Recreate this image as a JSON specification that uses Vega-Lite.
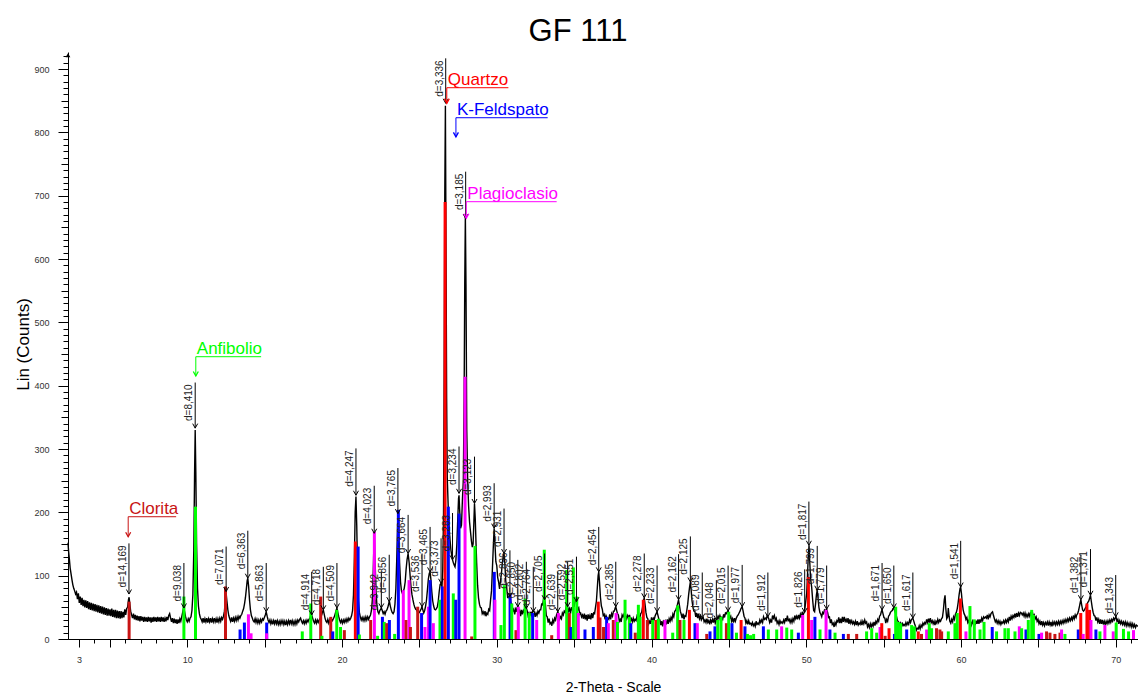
{
"$schema":"https://vega.github.io/schema/vega-lite/v6.json",
"width":1070,"height":587,
"autosize":{"type":"none"},
"padding":{"left":68,"top":52,"right":0,"bottom":56},
"background":"#ffffff",
"config":{"font":"Liberation Sans","view":{"stroke":null},"axis":{"grid":false}},
"title":{"text":"GF 111","fontSize":31,"fontWeight":"normal","font":"Liberation Sans","color":"#000","anchor":"middle","frame":"group","dx":-25,"dy":31,"offset":11,"baseline":"alphabetic"},
"datasets":{
"xrd":[
{"t":2.29,"c":152},{"t":2.33,"c":138},{"t":2.38,"c":126},{"t":2.43,"c":112},{"t":2.5,"c":101},{"t":2.55,"c":93},{"t":2.6,"c":86},{"t":2.66,"c":80},{"t":2.72,"c":76},{"t":2.78,"c":71},{"t":2.84,"c":74},{"t":2.9,"c":63},{"t":2.96,"c":72},{"t":3.02,"c":57},{"t":3.08,"c":67},{"t":3.14,"c":54},{"t":3.2,"c":65},{"t":3.26,"c":52},{"t":3.32,"c":62},{"t":3.38,"c":50},{"t":3.44,"c":61},{"t":3.5,"c":49},{"t":3.56,"c":60},{"t":3.62,"c":47},{"t":3.68,"c":58},{"t":3.74,"c":46},{"t":3.8,"c":57},{"t":3.86,"c":45},{"t":3.92,"c":56},{"t":3.98,"c":44},{"t":4.04,"c":55},{"t":4.1,"c":43},{"t":4.16,"c":54},{"t":4.22,"c":42},{"t":4.28,"c":53},{"t":4.34,"c":41},{"t":4.4,"c":52},{"t":4.46,"c":40},{"t":4.52,"c":51},{"t":4.58,"c":39},{"t":4.64,"c":50},{"t":4.7,"c":38},{"t":4.76,"c":49},{"t":4.82,"c":37},{"t":4.88,"c":48},{"t":4.94,"c":37},{"t":5.0,"c":47},{"t":5.06,"c":36},{"t":5.12,"c":48},{"t":5.18,"c":35},{"t":5.24,"c":46},{"t":5.3,"c":34},{"t":5.36,"c":46},{"t":5.42,"c":33},{"t":5.48,"c":45},{"t":5.54,"c":33},{"t":5.6,"c":44},{"t":5.66,"c":32},{"t":5.72,"c":44},{"t":5.78,"c":33},{"t":5.84,"c":43},{"t":5.9,"c":34},{"t":5.96,"c":47},{"t":6.02,"c":38},{"t":6.08,"c":48},{"t":6.14,"c":50},{"t":6.2,"c":62},{"t":6.24,"c":66},{"t":6.28,"c":56},{"t":6.34,"c":44},{"t":6.4,"c":38},{"t":6.46,"c":33},{"t":6.52,"c":40},{"t":6.58,"c":31},{"t":6.64,"c":38},{"t":6.7,"c":30},{"t":6.76,"c":37},{"t":6.82,"c":29},{"t":6.88,"c":36},{"t":6.94,"c":28},{"t":7.0,"c":36},{"t":7.06,"c":29},{"t":7.12,"c":35},{"t":7.18,"c":27},{"t":7.24,"c":35},{"t":7.3,"c":28},{"t":7.36,"c":34},{"t":7.42,"c":27},{"t":7.48,"c":35},{"t":7.54,"c":28},{"t":7.6,"c":34},{"t":7.66,"c":26},{"t":7.72,"c":34},{"t":7.78,"c":27},{"t":7.84,"c":35},{"t":7.9,"c":28},{"t":7.96,"c":34},{"t":8.02,"c":27},{"t":8.08,"c":35},{"t":8.14,"c":28},{"t":8.2,"c":34},{"t":8.26,"c":27},{"t":8.32,"c":35},{"t":8.38,"c":28},{"t":8.44,"c":34},{"t":8.5,"c":27},{"t":8.56,"c":33},{"t":8.62,"c":28},{"t":8.68,"c":35},{"t":8.74,"c":30},{"t":8.8,"c":37},{"t":8.86,"c":40},{"t":8.92,"c":33},{"t":8.98,"c":27},{"t":9.04,"c":33},{"t":9.1,"c":25},{"t":9.16,"c":32},{"t":9.22,"c":25},{"t":9.28,"c":31},{"t":9.34,"c":24},{"t":9.4,"c":31},{"t":9.46,"c":25},{"t":9.52,"c":32},{"t":9.58,"c":28},{"t":9.64,"c":35},{"t":9.7,"c":42},{"t":9.76,"c":49},{"t":9.82,"c":44},{"t":9.88,"c":36},{"t":9.94,"c":30},{"t":10.0,"c":27},{"t":10.06,"c":32},{"t":10.12,"c":28},{"t":10.18,"c":33},{"t":10.24,"c":35},{"t":10.3,"c":45},{"t":10.36,"c":70},{"t":10.42,"c":140},{"t":10.47,"c":260},{"t":10.51,"c":330},{"t":10.55,"c":265},{"t":10.6,"c":150},{"t":10.66,"c":80},{"t":10.72,"c":52},{"t":10.78,"c":40},{"t":10.84,"c":34},{"t":10.9,"c":31},{"t":10.96,"c":27},{"t":11.02,"c":33},{"t":11.08,"c":26},{"t":11.14,"c":32},{"t":11.2,"c":27},{"t":11.26,"c":33},{"t":11.32,"c":26},{"t":11.38,"c":32},{"t":11.44,"c":27},{"t":11.5,"c":33},{"t":11.56,"c":26},{"t":11.62,"c":32},{"t":11.68,"c":27},{"t":11.74,"c":33},{"t":11.8,"c":27},{"t":11.86,"c":32},{"t":11.92,"c":26},{"t":11.98,"c":32},{"t":12.04,"c":27},{"t":12.1,"c":33},{"t":12.16,"c":28},{"t":12.22,"c":34},{"t":12.28,"c":31},{"t":12.34,"c":36},{"t":12.4,"c":44},{"t":12.46,"c":62},{"t":12.51,"c":72},{"t":12.56,"c":60},{"t":12.62,"c":46},{"t":12.68,"c":37},{"t":12.74,"c":32},{"t":12.8,"c":28},{"t":12.86,"c":34},{"t":12.92,"c":27},{"t":12.98,"c":33},{"t":13.04,"c":28},{"t":13.1,"c":34},{"t":13.16,"c":29},{"t":13.22,"c":35},{"t":13.28,"c":30},{"t":13.34,"c":36},{"t":13.4,"c":33},{"t":13.46,"c":37},{"t":13.52,"c":39},{"t":13.58,"c":44},{"t":13.64,"c":48},{"t":13.7,"c":56},{"t":13.76,"c":66},{"t":13.82,"c":80},{"t":13.87,"c":92},{"t":13.91,"c":96},{"t":13.96,"c":84},{"t":14.02,"c":62},{"t":14.08,"c":46},{"t":14.14,"c":37},{"t":14.2,"c":33},{"t":14.26,"c":29},{"t":14.32,"c":27},{"t":14.38,"c":32},{"t":14.44,"c":26},{"t":14.5,"c":31},{"t":14.56,"c":25},{"t":14.62,"c":30},{"t":14.68,"c":25},{"t":14.74,"c":31},{"t":14.8,"c":27},{"t":14.86,"c":32},{"t":14.92,"c":30},{"t":14.98,"c":34},{"t":15.04,"c":38},{"t":15.1,"c":43},{"t":15.16,"c":36},{"t":15.22,"c":30},{"t":15.28,"c":26},{"t":15.34,"c":30},{"t":15.4,"c":24},{"t":15.46,"c":29},{"t":15.52,"c":23},{"t":15.58,"c":29},{"t":15.64,"c":24},{"t":15.7,"c":30},{"t":15.76,"c":24},{"t":15.82,"c":29},{"t":15.88,"c":23},{"t":15.94,"c":28},{"t":16.0,"c":23},{"t":16.06,"c":29},{"t":16.12,"c":24},{"t":16.18,"c":29},{"t":16.24,"c":23},{"t":16.3,"c":28},{"t":16.36,"c":22},{"t":16.42,"c":28},{"t":16.48,"c":23},{"t":16.54,"c":29},{"t":16.6,"c":24},{"t":16.66,"c":30},{"t":16.72,"c":24},{"t":16.78,"c":29},{"t":16.84,"c":23},{"t":16.9,"c":28},{"t":16.96,"c":23},{"t":17.02,"c":29},{"t":17.08,"c":24},{"t":17.14,"c":30},{"t":17.2,"c":27},{"t":17.26,"c":31},{"t":17.32,"c":33},{"t":17.38,"c":28},{"t":17.44,"c":25},{"t":17.5,"c":29},{"t":17.56,"c":24},{"t":17.62,"c":29},{"t":17.68,"c":25},{"t":17.74,"c":30},{"t":17.8,"c":27},{"t":17.86,"c":31},{"t":17.92,"c":33},{"t":17.98,"c":37},{"t":18.04,"c":38},{"t":18.1,"c":33},{"t":18.16,"c":28},{"t":18.22,"c":25},{"t":18.28,"c":30},{"t":18.34,"c":25},{"t":18.4,"c":30},{"t":18.46,"c":26},{"t":18.52,"c":30},{"t":18.58,"c":32},{"t":18.64,"c":35},{"t":18.7,"c":39},{"t":18.75,"c":44},{"t":18.79,"c":46},{"t":18.84,"c":40},{"t":18.9,"c":33},{"t":18.96,"c":28},{"t":19.02,"c":26},{"t":19.08,"c":31},{"t":19.14,"c":25},{"t":19.2,"c":30},{"t":19.26,"c":26},{"t":19.32,"c":31},{"t":19.38,"c":29},{"t":19.44,"c":32},{"t":19.5,"c":35},{"t":19.56,"c":40},{"t":19.62,"c":45},{"t":19.67,"c":49},{"t":19.72,"c":43},{"t":19.78,"c":36},{"t":19.84,"c":30},{"t":19.9,"c":26},{"t":19.96,"c":30},{"t":20.02,"c":25},{"t":20.08,"c":30},{"t":20.14,"c":26},{"t":20.2,"c":31},{"t":20.26,"c":27},{"t":20.32,"c":32},{"t":20.38,"c":28},{"t":20.44,"c":33},{"t":20.5,"c":30},{"t":20.56,"c":33},{"t":20.62,"c":37},{"t":20.68,"c":45},{"t":20.74,"c":70},{"t":20.8,"c":130},{"t":20.85,"c":200},{"t":20.9,"c":225},{"t":20.95,"c":180},{"t":21.0,"c":110},{"t":21.06,"c":60},{"t":21.12,"c":42},{"t":21.18,"c":35},{"t":21.24,"c":30},{"t":21.3,"c":34},{"t":21.36,"c":29},{"t":21.42,"c":34},{"t":21.48,"c":29},{"t":21.54,"c":35},{"t":21.6,"c":30},{"t":21.66,"c":35},{"t":21.72,"c":31},{"t":21.78,"c":35},{"t":21.84,"c":38},{"t":21.9,"c":45},{"t":21.96,"c":62},{"t":22.02,"c":110},{"t":22.08,"c":168},{"t":22.14,"c":120},{"t":22.2,"c":72},{"t":22.26,"c":52},{"t":22.32,"c":43},{"t":22.38,"c":40},{"t":22.44,"c":45},{"t":22.5,"c":47},{"t":22.54,"c":49},{"t":22.6,"c":45},{"t":22.66,"c":40},{"t":22.72,"c":43},{"t":22.78,"c":39},{"t":22.84,"c":44},{"t":22.9,"c":46},{"t":22.96,"c":50},{"t":23.02,"c":56},{"t":23.06,"c":60},{"t":23.12,"c":52},{"t":23.18,"c":46},{"t":23.24,"c":42},{"t":23.3,"c":40},{"t":23.36,"c":43},{"t":23.42,"c":55},{"t":23.48,"c":80},{"t":23.54,"c":130},{"t":23.59,"c":180},{"t":23.62,"c":198},{"t":23.66,"c":170},{"t":23.72,"c":120},{"t":23.78,"c":90},{"t":23.84,"c":76},{"t":23.9,"c":72},{"t":23.96,"c":75},{"t":24.02,"c":80},{"t":24.08,"c":90},{"t":24.14,"c":110},{"t":24.2,"c":125},{"t":24.27,"c":135},{"t":24.34,"c":120},{"t":24.4,"c":100},{"t":24.46,"c":82},{"t":24.52,"c":70},{"t":24.58,"c":62},{"t":24.64,"c":55},{"t":24.7,"c":50},{"t":24.76,"c":47},{"t":24.82,"c":46},{"t":24.88,"c":43},{"t":24.94,"c":41},{"t":25.0,"c":42},{"t":25.06,"c":45},{"t":25.12,"c":48},{"t":25.17,"c":51},{"t":25.22,"c":46},{"t":25.28,"c":41},{"t":25.34,"c":45},{"t":25.4,"c":52},{"t":25.46,"c":62},{"t":25.52,"c":78},{"t":25.58,"c":95},{"t":25.64,"c":104},{"t":25.69,"c":106},{"t":25.74,"c":95},{"t":25.8,"c":75},{"t":25.86,"c":60},{"t":25.92,"c":52},{"t":25.98,"c":47},{"t":26.04,"c":46},{"t":26.1,"c":48},{"t":26.16,"c":51},{"t":26.22,"c":60},{"t":26.28,"c":75},{"t":26.34,"c":86},{"t":26.4,"c":88},{"t":26.46,"c":82},{"t":26.51,"c":110},{"t":26.56,"c":200},{"t":26.6,"c":420},{"t":26.64,"c":700},{"t":26.68,"c":842},{"t":26.72,"c":620},{"t":26.76,"c":380},{"t":26.8,"c":255},{"t":26.86,"c":210},{"t":26.92,"c":175},{"t":26.98,"c":156},{"t":27.04,"c":140},{"t":27.1,"c":130},{"t":27.14,"c":125},{"t":27.2,"c":120},{"t":27.26,"c":116},{"t":27.3,"c":114},{"t":27.36,"c":125},{"t":27.42,"c":150},{"t":27.48,"c":190},{"t":27.53,"c":222},{"t":27.56,"c":227},{"t":27.6,"c":205},{"t":27.66,"c":175},{"t":27.72,"c":180},{"t":27.78,"c":220},{"t":27.84,"c":251},{"t":27.89,"c":380},{"t":27.93,"c":560},{"t":27.97,"c":668},{"t":28.01,"c":560},{"t":28.06,"c":330},{"t":28.12,"c":250},{"t":28.18,"c":210},{"t":28.24,"c":185},{"t":28.3,"c":170},{"t":28.36,"c":155},{"t":28.42,"c":145},{"t":28.47,"c":150},{"t":28.52,"c":185},{"t":28.56,"c":214},{"t":28.61,"c":190},{"t":28.66,"c":150},{"t":28.7,"c":120},{"t":28.76,"c":85},{"t":28.82,"c":65},{"t":28.88,"c":55},{"t":28.94,"c":50},
{"t":29.0,"c":49},{"t":29.06,"c":40},{"t":29.12,"c":43},{"t":29.18,"c":39},{"t":29.24,"c":44},{"t":29.3,"c":36},{"t":29.36,"c":41},{"t":29.42,"c":39},{"t":29.48,"c":47},{"t":29.54,"c":45},{"t":29.6,"c":62},{"t":29.66,"c":76},{"t":29.72,"c":112},{"t":29.78,"c":148},{"t":29.83,"c":175},{"t":29.88,"c":152},{"t":29.94,"c":122},{"t":30.0,"c":116},{"t":30.06,"c":97},{"t":30.12,"c":90},{"t":30.18,"c":79},{"t":30.24,"c":92},{"t":30.3,"c":103},{"t":30.36,"c":121},{"t":30.42,"c":130},{"t":30.47,"c":135},{"t":30.52,"c":120},{"t":30.58,"c":92},{"t":30.64,"c":82},{"t":30.7,"c":66},{"t":30.76,"c":67},{"t":30.82,"c":64},{"t":30.86,"c":69},{"t":30.92,"c":57},{"t":30.98,"c":55},{"t":31.04,"c":44},{"t":31.1,"c":47},{"t":31.16,"c":39},{"t":31.22,"c":47},{"t":31.28,"c":43},{"t":31.32,"c":50},{"t":31.36,"c":51},{"t":31.42,"c":42},{"t":31.48,"c":45},{"t":31.54,"c":36},{"t":31.6,"c":46},{"t":31.66,"c":39},{"t":31.72,"c":45},{"t":31.78,"c":42},{"t":31.84,"c":48},{"t":31.91,"c":49},{"t":31.96,"c":45},{"t":32.02,"c":37},{"t":32.08,"c":41},{"t":32.14,"c":36},{"t":32.2,"c":43},{"t":32.26,"c":38},{"t":32.32,"c":44},{"t":32.36,"c":44},{"t":32.42,"c":43},{"t":32.48,"c":35},{"t":32.54,"c":41},{"t":32.6,"c":37},{"t":32.66,"c":44},{"t":32.72,"c":41},{"t":32.78,"c":46},{"t":32.84,"c":46},{"t":32.9,"c":55},{"t":32.96,"c":54},{"t":33.02,"c":63},{"t":33.09,"c":62},{"t":33.14,"c":55},{"t":33.2,"c":37},{"t":33.26,"c":35},{"t":33.32,"c":26},{"t":33.38,"c":32},{"t":33.44,"c":24},{"t":33.5,"c":26},{"t":33.56,"c":21},{"t":33.62,"c":30},{"t":33.68,"c":26},{"t":33.74,"c":33},{"t":33.8,"c":30},{"t":33.86,"c":38},{"t":33.94,"c":43},{"t":34.0,"c":39},{"t":34.06,"c":31},{"t":34.12,"c":35},{"t":34.18,"c":32},{"t":34.24,"c":41},{"t":34.3,"c":38},{"t":34.36,"c":44},{"t":34.42,"c":42},{"t":34.48,"c":50},{"t":34.54,"c":47},{"t":34.58,"c":51},{"t":34.64,"c":44},{"t":34.7,"c":48},{"t":34.76,"c":40},{"t":34.82,"c":50},{"t":34.88,"c":46},{"t":34.94,"c":53},{"t":35.0,"c":52},{"t":35.06,"c":60},{"t":35.12,"c":59},{"t":35.18,"c":58},{"t":35.24,"c":46},{"t":35.3,"c":49},{"t":35.36,"c":39},{"t":35.42,"c":41},{"t":35.48,"c":35},{"t":35.54,"c":38},{"t":35.6,"c":32},{"t":35.66,"c":40},{"t":35.72,"c":31},{"t":35.78,"c":38},{"t":35.84,"c":29},{"t":35.9,"c":39},{"t":35.96,"c":32},{"t":36.02,"c":37},{"t":36.08,"c":31},{"t":36.14,"c":41},{"t":36.2,"c":33},{"t":36.26,"c":41},{"t":36.32,"c":40},{"t":36.38,"c":50},{"t":36.44,"c":60},{"t":36.5,"c":82},{"t":36.55,"c":100},{"t":36.59,"c":106},{"t":36.64,"c":90},{"t":36.7,"c":66},{"t":36.76,"c":52},{"t":36.82,"c":47},{"t":36.88,"c":37},{"t":36.94,"c":39},{"t":37.0,"c":31},{"t":37.06,"c":37},{"t":37.12,"c":33},{"t":37.18,"c":33},{"t":37.24,"c":31},{"t":37.3,"c":39},{"t":37.36,"c":31},{"t":37.42,"c":40},{"t":37.48,"c":36},{"t":37.54,"c":44},{"t":37.6,"c":44},{"t":37.65,"c":49},{"t":37.69,"c":51},{"t":37.74,"c":46},{"t":37.8,"c":40},{"t":37.86,"c":38},{"t":37.92,"c":28},{"t":37.98,"c":31},{"t":38.04,"c":27},{"t":38.1,"c":38},{"t":38.16,"c":35},{"t":38.22,"c":39},{"t":38.28,"c":33},{"t":38.34,"c":37},{"t":38.4,"c":32},{"t":38.46,"c":37},{"t":38.52,"c":33},{"t":38.58,"c":38},{"t":38.64,"c":29},{"t":38.7,"c":32},{"t":38.76,"c":27},{"t":38.82,"c":33},{"t":38.88,"c":28},{"t":38.94,"c":31},{"t":39.0,"c":29},{"t":39.06,"c":36},{"t":39.12,"c":32},{"t":39.18,"c":36},{"t":39.24,"c":33},{"t":39.3,"c":40},{"t":39.36,"c":42},{"t":39.42,"c":50},{"t":39.47,"c":60},{"t":39.53,"c":65},{"t":39.58,"c":55},{"t":39.64,"c":42},{"t":39.7,"c":34},{"t":39.76,"c":32},{"t":39.82,"c":24},{"t":39.88,"c":28},{"t":39.94,"c":24},{"t":40.0,"c":34},{"t":40.06,"c":27},{"t":40.12,"c":33},{"t":40.18,"c":31},{"t":40.24,"c":37},{"t":40.3,"c":40},{"t":40.36,"c":43},{"t":40.42,"c":37},{"t":40.48,"c":31},{"t":40.54,"c":30},{"t":40.6,"c":22},{"t":40.66,"c":28},{"t":40.72,"c":20},{"t":40.78,"c":30},{"t":40.84,"c":23},{"t":40.9,"c":28},{"t":40.96,"c":23},{"t":41.02,"c":31},{"t":41.08,"c":24},{"t":41.14,"c":32},{"t":41.2,"c":28},{"t":41.26,"c":34},{"t":41.32,"c":30},{"t":41.38,"c":39},{"t":41.44,"c":35},{"t":41.5,"c":44},{"t":41.56,"c":45},{"t":41.62,"c":50},{"t":41.68,"c":55},{"t":41.75,"c":62},{"t":41.8,"c":54},{"t":41.86,"c":44},{"t":41.92,"c":39},{"t":41.98,"c":33},{"t":42.04,"c":40},{"t":42.1,"c":31},{"t":42.16,"c":37},{"t":42.22,"c":36},{"t":42.28,"c":45},{"t":42.34,"c":55},{"t":42.4,"c":70},{"t":42.46,"c":82},{"t":42.51,"c":90},{"t":42.56,"c":78},{"t":42.62,"c":60},{"t":42.68,"c":50},{"t":42.74,"c":44},{"t":42.8,"c":44},{"t":42.86,"c":35},{"t":42.92,"c":41},{"t":42.98,"c":33},{"t":43.04,"c":40},{"t":43.1,"c":32},{"t":43.16,"c":36},{"t":43.22,"c":30},{"t":43.28,"c":33},{"t":43.34,"c":34},{"t":43.4,"c":27},{"t":43.46,"c":30},{"t":43.52,"c":26},{"t":43.58,"c":32},{"t":43.64,"c":26},{"t":43.7,"c":29},{"t":43.76,"c":23},{"t":43.82,"c":30},{"t":43.88,"c":26},{"t":43.94,"c":31},{"t":44.0,"c":26},{"t":44.06,"c":33},{"t":44.12,"c":25},{"t":44.19,"c":30},{"t":44.24,"c":31},{"t":44.3,"c":36},{"t":44.36,"c":32},{"t":44.42,"c":37},{"t":44.48,"c":32},{"t":44.54,"c":34},{"t":44.6,"c":31},{"t":44.66,"c":39},{"t":44.72,"c":34},{"t":44.78,"c":41},{"t":44.84,"c":40},{"t":44.9,"c":43},{"t":44.95,"c":44},{"t":45.0,"c":40},{"t":45.06,"c":33},{"t":45.12,"c":36},{"t":45.18,"c":28},{"t":45.24,"c":32},{"t":45.3,"c":26},{"t":45.36,"c":33},{"t":45.42,"c":28},{"t":45.48,"c":33},{"t":45.54,"c":36},{"t":45.6,"c":38},{"t":45.66,"c":41},{"t":45.72,"c":44},{"t":45.78,"c":48},{"t":45.86,"c":51},{"t":45.92,"c":44},{"t":45.98,"c":36},{"t":46.04,"c":33},{"t":46.1,"c":25},{"t":46.16,"c":29},{"t":46.22,"c":23},{"t":46.28,"c":29},{"t":46.34,"c":24},{"t":46.4,"c":25},{"t":46.46,"c":22},{"t":46.52,"c":26},{"t":46.58,"c":21},{"t":46.64,"c":24},{"t":46.7,"c":20},{"t":46.76,"c":28},{"t":46.82,"c":23},{"t":46.88,"c":25},{"t":46.94,"c":23},{"t":47.0,"c":30},{"t":47.06,"c":26},{"t":47.12,"c":30},{"t":47.18,"c":26},{"t":47.24,"c":35},{"t":47.3,"c":31},{"t":47.36,"c":33},{"t":47.42,"c":31},{"t":47.47,"c":37},{"t":47.52,"c":35},{"t":47.58,"c":32},{"t":47.64,"c":26},{"t":47.7,"c":30},{"t":47.76,"c":26},{"t":47.82,"c":37},{"t":47.88,"c":33},{"t":47.94,"c":37},{"t":48.0,"c":30},{"t":48.06,"c":33},{"t":48.12,"c":25},{"t":48.18,"c":28},{"t":48.24,"c":23},{"t":48.3,"c":29},{"t":48.36,"c":25},{"t":48.42,"c":27},{"t":48.48,"c":25},{"t":48.54,"c":30},{"t":48.6,"c":26},{"t":48.66,"c":33},{"t":48.72,"c":28},{"t":48.78,"c":37},{"t":48.84,"c":29},{"t":48.9,"c":31},{"t":48.96,"c":26},{"t":49.02,"c":31},{"t":49.08,"c":26},{"t":49.14,"c":32},{"t":49.2,"c":28},{"t":49.26,"c":37},{"t":49.32,"c":32},{"t":49.38,"c":36},{"t":49.44,"c":31},{"t":49.5,"c":38},{"t":49.56,"c":33},{"t":49.62,"c":39},{"t":49.68,"c":34},{"t":49.74,"c":43},{"t":49.8,"c":38},{"t":49.87,"c":42},{"t":49.93,"c":52},{"t":49.98,"c":62},{"t":50.03,"c":72},{"t":50.08,"c":100},{"t":50.13,"c":130},{"t":50.18,"c":148},{"t":50.23,"c":120},{"t":50.28,"c":95},{"t":50.35,"c":82},{"t":50.42,"c":60},{"t":50.48,"c":45},{"t":50.54,"c":43},{"t":50.6,"c":55},{"t":50.66,"c":70},{"t":50.71,"c":77},{"t":50.76,"c":65},{"t":50.82,"c":50},{"t":50.88,"c":42},{"t":50.94,"c":39},{"t":51.0,"c":35},{"t":51.06,"c":42},{"t":51.12,"c":40},{"t":51.18,"c":46},{"t":51.24,"c":45},{"t":51.32,"c":47},{"t":51.38,"c":42},{"t":51.44,"c":34},{"t":51.5,"c":35},{"t":51.56,"c":25},{"t":51.62,"c":31},{"t":51.68,"c":23},{"t":51.74,"c":25},{"t":51.8,"c":19},{"t":51.86,"c":26},{"t":51.92,"c":22},{"t":51.98,"c":29},{"t":52.04,"c":27},{"t":52.1,"c":34},{"t":52.16,"c":25},{"t":52.22,"c":32},{"t":52.28,"c":25},{"t":52.34,"c":35},{"t":52.4,"c":27},{"t":52.46,"c":35},{"t":52.52,"c":28},{"t":52.58,"c":31},{"t":52.64,"c":26},{"t":52.7,"c":33},{"t":52.76,"c":24},{"t":52.82,"c":31},{"t":52.88,"c":25},{"t":52.94,"c":29},{"t":53.0,"c":24},{"t":53.06,"c":27},{"t":53.12,"c":23},{"t":53.18,"c":28},{"t":53.24,"c":22},{"t":53.3,"c":28},{"t":53.36,"c":22},{"t":53.42,"c":25},{"t":53.48,"c":23},{"t":53.54,"c":28},{"t":53.6,"c":22},{"t":53.66,"c":28},{"t":53.72,"c":24},{"t":53.78,"c":30},{"t":53.84,"c":25},{"t":53.9,"c":27},{"t":53.96,"c":19},{"t":54.02,"c":23},{"t":54.08,"c":18},{"t":54.14,"c":24},{"t":54.2,"c":19},{"t":54.26,"c":24},{"t":54.32,"c":20},{"t":54.38,"c":27},{"t":54.44,"c":21},{"t":54.5,"c":28},{"t":54.56,"c":25},{"t":54.62,"c":31},{"t":54.68,"c":28},{"t":54.74,"c":36},{"t":54.8,"c":38},{"t":54.85,"c":43},{"t":54.9,"c":46},{"t":54.96,"c":40},{"t":55.02,"c":34},{"t":55.08,"c":33},{"t":55.14,"c":25},{"t":55.2,"c":31},{"t":55.26,"c":28},{"t":55.32,"c":36},{"t":55.38,"c":38},{"t":55.44,"c":42},{"t":55.5,"c":44},{"t":55.56,"c":45},{"t":55.6,"c":48},{"t":55.66,"c":49},{"t":55.72,"c":44},{"t":55.78,"c":40},{"t":55.84,"c":35},{"t":55.9,"c":29},{"t":55.96,"c":27},{"t":56.02,"c":22},{"t":56.08,"c":25},{"t":56.14,"c":19},{"t":56.2,"c":26},{"t":56.26,"c":21},{"t":56.32,"c":23},{"t":56.38,"c":21},{"t":56.44,"c":26},{"t":56.5,"c":22},{"t":56.56,"c":26},{"t":56.62,"c":23},{"t":56.68,"c":30},{"t":56.74,"c":26},{"t":56.8,"c":31},{"t":56.85,"c":32},{"t":56.89,"c":33},{"t":56.94,"c":29},{"t":57.0,"c":24},{"t":57.06,"c":20},{"t":57.12,"c":14},{"t":57.18,"c":17},{"t":57.24,"c":16},{"t":57.3,"c":21},{"t":57.36,"c":16},{"t":57.42,"c":22},{"t":57.48,"c":19},{"t":57.54,"c":25},{"t":57.6,"c":22},{"t":57.66,"c":26},{"t":57.72,"c":24},{"t":57.78,"c":31},{"t":57.84,"c":26},{"t":57.9,"c":32},{"t":57.96,"c":26},{"t":58.02,"c":33},{"t":58.08,"c":26},{"t":58.14,"c":29},{"t":58.2,"c":24},{"t":58.26,"c":28},{"t":58.32,"c":22},{"t":58.38,"c":28},{"t":58.44,"c":25},{"t":58.5,"c":31},{"t":58.56,"c":26},{"t":58.62,"c":30},{"t":58.68,"c":28},{"t":58.74,"c":32},{"t":58.8,"c":34},{"t":58.86,"c":45},{"t":58.92,"c":62},{"t":58.97,"c":69},{"t":59.02,"c":48},{"t":59.08,"c":32},{"t":59.14,"c":35},{"t":59.18,"c":49},{"t":59.23,"c":36},{"t":59.28,"c":28},{"t":59.34,"c":25},{"t":59.4,"c":31},{"t":59.46,"c":27},{"t":59.52,"c":35},{"t":59.58,"c":31},{"t":59.64,"c":39},{"t":59.7,"c":42},{"t":59.76,"c":48},{"t":59.82,"c":58},{"t":59.88,"c":70},{"t":59.94,"c":80},{"t":59.98,"c":82},{"t":60.03,"c":72},{"t":60.08,"c":58},{"t":60.14,"c":46},{"t":60.2,"c":40},{"t":60.26,"c":37},{"t":60.32,"c":31},{"t":60.38,"c":34},{"t":60.44,"c":26},{"t":60.5,"c":29},{"t":60.56,"c":23},{"t":60.62,"c":27},{"t":60.68,"c":22},{"t":60.74,"c":28},{"t":60.8,"c":24},{"t":60.86,"c":29},{"t":60.92,"c":22},{"t":60.98,"c":29},{"t":61.04,"c":24},{"t":61.1,"c":31},{"t":61.16,"c":24},{"t":61.22,"c":31},{"t":61.28,"c":26},{"t":61.34,"c":33},{"t":61.4,"c":29},{"t":61.46,"c":35},{"t":61.52,"c":33},{"t":61.58,"c":35},{"t":61.64,"c":33},{"t":61.7,"c":38},{"t":61.76,"c":31},{"t":61.82,"c":38},{"t":61.88,"c":35},{"t":61.94,"c":40},{"t":62.0,"c":42},{"t":62.04,"c":43},{"t":62.1,"c":37},{"t":62.16,"c":32},{"t":62.22,"c":27},{"t":62.28,"c":30},{"t":62.34,"c":25},{"t":62.4,"c":29},{"t":62.46,"c":24},{"t":62.52,"c":28},{"t":62.58,"c":23},{"t":62.64,"c":27},{"t":62.7,"c":25},{"t":62.76,"c":29},{"t":62.82,"c":25},{"t":62.88,"c":30},{"t":62.94,"c":26},{"t":63.0,"c":31},{"t":63.06,"c":27},{"t":63.12,"c":35},{"t":63.18,"c":29},{"t":63.24,"c":36},{"t":63.3,"c":32},{"t":63.36,"c":37},{"t":63.42,"c":34},{"t":63.48,"c":40},{"t":63.54,"c":34},{"t":63.6,"c":41},{"t":63.66,"c":35},{"t":63.72,"c":41},{"t":63.78,"c":37},{"t":63.84,"c":42},{"t":63.9,"c":41},{"t":63.96,"c":38},{"t":64.02,"c":41},{"t":64.08,"c":36},{"t":64.14,"c":41},{"t":64.2,"c":35},{"t":64.26,"c":39},{"t":64.32,"c":35},{"t":64.38,"c":40},{"t":64.44,"c":36},{"t":64.5,"c":43},{"t":64.56,"c":36},{"t":64.62,"c":42},{"t":64.68,"c":35},{"t":64.74,"c":38},{"t":64.8,"c":32},{"t":64.86,"c":35},{"t":64.92,"c":28},{"t":64.98,"c":31},{"t":65.04,"c":24},{"t":65.1,"c":28},{"t":65.16,"c":22},{"t":65.22,"c":28},{"t":65.28,"c":22},{"t":65.34,"c":26},{"t":65.4,"c":21},{"t":65.46,"c":26},{"t":65.52,"c":23},{"t":65.58,"c":27},{"t":65.64,"c":21},{"t":65.7,"c":27},{"t":65.76,"c":22},{"t":65.82,"c":27},{"t":65.88,"c":20},{"t":65.94,"c":27},{"t":66.0,"c":23},{"t":66.06,"c":27},{"t":66.12,"c":22},{"t":66.18,"c":27},{"t":66.24,"c":23},{"t":66.3,"c":28},{"t":66.36,"c":23},{"t":66.42,"c":28},{"t":66.48,"c":24},{"t":66.54,"c":29},{"t":66.6,"c":25},{"t":66.66,"c":30},{"t":66.72,"c":26},{"t":66.78,"c":31},{"t":66.84,"c":27},{"t":66.9,"c":32},{"t":66.96,"c":28},{"t":67.02,"c":33},{"t":67.08,"c":29},{"t":67.14,"c":34},{"t":67.2,"c":30},{"t":67.26,"c":37},{"t":67.32,"c":32},{"t":67.38,"c":38},{"t":67.44,"c":34},{"t":67.48,"c":38},{"t":67.54,"c":40},{"t":67.6,"c":45},{"t":67.66,"c":52},{"t":67.71,"c":58},{"t":67.75,"c":62},{"t":67.8,"c":54},{"t":67.86,"c":46},{"t":67.92,"c":44},{"t":67.98,"c":46},{"t":68.04,"c":49},{"t":68.08,"c":51},{"t":68.14,"c":55},{"t":68.2,"c":58},{"t":68.26,"c":60},{"t":68.32,"c":65},{"t":68.37,"c":69},{"t":68.42,"c":60},{"t":68.48,"c":50},{"t":68.54,"c":42},{"t":68.6,"c":37},{"t":68.66,"c":36},{"t":68.72,"c":29},{"t":68.78,"c":34},{"t":68.84,"c":27},{"t":68.9,"c":31},{"t":68.96,"c":24},{"t":69.02,"c":31},{"t":69.08,"c":24},{"t":69.14,"c":30},{"t":69.2,"c":23},{"t":69.26,"c":28},{"t":69.32,"c":23},{"t":69.38,"c":28},{"t":69.44,"c":24},{"t":69.5,"c":29},{"t":69.56,"c":25},{"t":69.62,"c":30},{"t":69.68,"c":26},{"t":69.74,"c":31},{"t":69.8,"c":28},{"t":69.86,"c":33},{"t":69.92,"c":30},{"t":69.96,"c":33},{"t":70.02,"c":35},{"t":70.08,"c":28},{"t":70.14,"c":31},{"t":70.2,"c":24},{"t":70.26,"c":29},{"t":70.32,"c":24},{"t":70.38,"c":28},{"t":70.44,"c":23},{"t":70.5,"c":27},{"t":70.56,"c":22},{"t":70.62,"c":27},{"t":70.68,"c":21},{"t":70.74,"c":26},{"t":70.8,"c":21},{"t":70.86,"c":25},{"t":70.92,"c":20},{"t":70.98,"c":25},{"t":71.04,"c":19},{"t":71.1,"c":24},{"t":71.16,"c":19},{"t":71.22,"c":23},{"t":71.28,"c":18},{"t":71.34,"c":22},{"t":71.44,"c":20}
],
"sticks":[
{"t":6.24,"c":59,"p":"C"},{"t":9.78,"c":67,"p":"A"},{"t":10.53,"c":209,"p":"A"},{"t":12.47,"c":83,"p":"C"},{"t":13.41,"c":15,"p":"K"},{"t":13.69,"c":26,"p":"K"},{"t":13.95,"c":39,"p":"P"},{"t":14.12,"c":9,"p":"P"},{"t":15.13,"c":26,"p":"K"},{"t":15.13,"c":9,"p":"P"},{"t":17.43,"c":12,"p":"A"},{"t":17.98,"c":56,"p":"A"},{"t":18.62,"c":67,"p":"C"},{"t":18.7,"c":5,"p":"A"},{"t":19.27,"c":35,"p":"C"},{"t":19.4,"c":12,"p":"K"},{"t":19.66,"c":46,"p":"A"},{"t":19.9,"c":19,"p":"A"},{"t":20.15,"c":14,"p":"C"},{"t":20.86,"c":154,"p":"Q"},{"t":21.04,"c":146,"p":"K"},{"t":21.12,"c":7,"p":"A"},{"t":21.85,"c":30,"p":"C"},{"t":22.09,"c":169,"p":"P"},{"t":22.3,"c":5,"p":"A"},{"t":22.61,"c":35,"p":"K"},{"t":22.73,"c":27,"p":"A"},{"t":22.89,"c":25,"p":"C"},{"t":23.06,"c":30,"p":"K"},{"t":23.4,"c":8,"p":"A"},{"t":23.64,"c":204,"p":"K"},{"t":23.96,"c":77,"p":"P"},{"t":24.14,"c":30,"p":"C"},{"t":24.33,"c":93,"p":"P"},{"t":24.42,"c":19,"p":"C"},{"t":24.89,"c":51,"p":"C"},{"t":25.14,"c":41,"p":"K"},{"t":25.36,"c":19,"p":"P"},{"t":25.58,"c":51,"p":"P"},{"t":25.69,"c":93,"p":"K"},{"t":25.9,"c":25,"p":"P"},{"t":26.33,"c":62,"p":"A"},{"t":26.48,"c":83,"p":"K"},{"t":26.66,"c":690,"p":"Q"},{"t":26.87,"c":209,"p":"K"},{"t":27.19,"c":72,"p":"A"},{"t":27.35,"c":62,"p":"K"},{"t":27.56,"c":198,"p":"K"},{"t":27.95,"c":414,"p":"P"},{"t":28.38,"c":4,"p":"C"},{"t":28.59,"c":147,"p":"A"},{"t":29.84,"c":106,"p":"K"},{"t":29.88,"c":62,"p":"P"},{"t":30.27,"c":22,"p":"A"},{"t":30.49,"c":85,"p":"A"},{"t":30.86,"c":72,"p":"K"},{"t":30.97,"c":56,"p":"A"},{"t":31.24,"c":14,"p":"C"},{"t":31.39,"c":51,"p":"P"},{"t":31.83,"c":64,"p":"A"},{"t":32.1,"c":41,"p":"A"},{"t":32.32,"c":41,"p":"K"},{"t":32.58,"c":30,"p":"P"},{"t":33.07,"c":141,"p":"A"},{"t":33.55,"c":6,"p":"C"},{"t":33.98,"c":41,"p":"P"},{"t":34.52,"c":109,"p":"A"},{"t":34.69,"c":41,"p":"C"},{"t":34.8,"c":19,"p":"K"},{"t":34.95,"c":113,"p":"A"},{"t":35.17,"c":67,"p":"A"},{"t":35.27,"c":41,"p":"P"},{"t":35.7,"c":15,"p":"K"},{"t":36.24,"c":19,"p":"K"},{"t":36.56,"c":59,"p":"Q"},{"t":36.67,"c":34,"p":"C"},{"t":36.9,"c":19,"p":"C"},{"t":37.1,"c":35,"p":"K"},{"t":37.21,"c":25,"p":"P"},{"t":37.53,"c":30,"p":"C"},{"t":37.71,"c":41,"p":"P"},{"t":37.8,"c":27,"p":"A"},{"t":38.29,"c":62,"p":"A"},{"t":38.57,"c":35,"p":"A"},{"t":38.66,"c":25,"p":"K"},{"t":38.95,"c":10,"p":"C"},{"t":39.15,"c":54,"p":"A"},{"t":39.26,"c":35,"p":"A"},{"t":39.47,"c":62,"p":"Q"},{"t":39.73,"c":30,"p":"C"},{"t":40.08,"c":30,"p":"A"},{"t":40.29,"c":30,"p":"Q"},{"t":40.44,"c":32,"p":"A"},{"t":40.87,"c":30,"p":"P"},{"t":41.37,"c":10,"p":"A"},{"t":41.69,"c":53,"p":"A"},{"t":41.84,"c":30,"p":"C"},{"t":42.1,"c":30,"p":"A"},{"t":42.45,"c":46,"p":"Q"},{"t":42.81,"c":25,"p":"K"},{"t":42.96,"c":25,"p":"P"},{"t":43.57,"c":8,"p":"C"},{"t":43.78,"c":12,"p":"K"},{"t":44.1,"c":20,"p":"K"},{"t":44.28,"c":30,"p":"A"},{"t":44.49,"c":35,"p":"A"},{"t":44.84,"c":25,"p":"C"},{"t":44.99,"c":43,"p":"A"},{"t":45.2,"c":25,"p":"K"},{"t":45.49,"c":10,"p":"A"},{"t":45.79,"c":30,"p":"Q"},{"t":46.04,"c":20,"p":"K"},{"t":46.2,"c":8,"p":"A"},{"t":46.4,"c":6,"p":"A"},{"t":46.6,"c":8,"p":"A"},{"t":47.23,"c":20,"p":"K"},{"t":47.55,"c":15,"p":"A"},{"t":48.09,"c":15,"p":"A"},{"t":48.41,"c":20,"p":"P"},{"t":48.74,"c":18,"p":"A"},{"t":49.06,"c":15,"p":"A"},{"t":49.49,"c":10,"p":"K"},{"t":49.77,"c":38,"p":"P"},{"t":50.14,"c":98,"p":"Q"},{"t":50.35,"c":30,"p":"P"},{"t":50.56,"c":35,"p":"K"},{"t":50.89,"c":15,"p":"A"},{"t":51.28,"c":46,"p":"P"},{"t":51.53,"c":15,"p":"K"},{"t":51.86,"c":10,"p":"A"},{"t":52.4,"c":8,"p":"K"},{"t":52.72,"c":8,"p":"C"},{"t":53.26,"c":8,"p":"C"},{"t":53.9,"c":12,"p":"A"},{"t":54.23,"c":17,"p":"A"},{"t":54.55,"c":10,"p":"A"},{"t":54.77,"c":19,"p":"P"},{"t":54.88,"c":25,"p":"Q"},{"t":55.1,"c":5,"p":"C"},{"t":55.35,"c":17,"p":"Q"},{"t":55.7,"c":8,"p":"K"},{"t":55.78,"c":51,"p":"A"},{"t":55.95,"c":27,"p":"A"},{"t":56.1,"c":25,"p":"A"},{"t":56.49,"c":15,"p":"K"},{"t":56.81,"c":22,"p":"A"},{"t":56.98,"c":20,"p":"A"},{"t":57.24,"c":12,"p":"Q"},{"t":57.45,"c":8,"p":"C"},{"t":57.78,"c":15,"p":"P"},{"t":57.95,"c":25,"p":"A"},{"t":58.1,"c":17,"p":"A"},{"t":58.42,"c":17,"p":"C"},{"t":58.64,"c":15,"p":"C"},{"t":58.75,"c":12,"p":"C"},{"t":59.18,"c":12,"p":"A"},{"t":59.61,"c":25,"p":"A"},{"t":59.76,"c":41,"p":"A"},{"t":59.96,"c":64,"p":"Q"},{"t":60.32,"c":12,"p":"P"},{"t":60.58,"c":52,"p":"A"},{"t":60.86,"c":31,"p":"A"},{"t":61.23,"c":15,"p":"A"},{"t":61.49,"c":27,"p":"A"},{"t":62.02,"c":19,"p":"K"},{"t":62.3,"c":12,"p":"A"},{"t":62.84,"c":17,"p":"A"},{"t":63.06,"c":17,"p":"A"},{"t":63.49,"c":12,"p":"A"},{"t":63.77,"c":20,"p":"P"},{"t":63.92,"c":17,"p":"A"},{"t":64.2,"c":15,"p":"K"},{"t":64.35,"c":30,"p":"A"},{"t":64.57,"c":46,"p":"A"},{"t":64.68,"c":38,"p":"A"},{"t":65.04,"c":8,"p":"K"},{"t":65.21,"c":10,"p":"P"},{"t":65.53,"c":12,"p":"C"},{"t":65.75,"c":10,"p":"C"},{"t":66.07,"c":8,"p":"C"},{"t":66.4,"c":10,"p":"C"},{"t":66.5,"c":15,"p":"P"},{"t":66.72,"c":8,"p":"A"},{"t":67.58,"c":15,"p":"K"},{"t":67.74,"c":41,"p":"Q"},{"t":67.9,"c":8,"p":"P"},{"t":68.14,"c":56,"p":"Q"},{"t":68.31,"c":46,"p":"Q"},{"t":68.4,"c":30,"p":"P"},{"t":68.72,"c":15,"p":"K"},{"t":68.98,"c":12,"p":"A"},{"t":69.3,"c":22,"p":"P"},{"t":69.84,"c":12,"p":"P"},{"t":70.03,"c":26,"p":"A"},{"t":70.5,"c":16,"p":"A"},{"t":70.83,"c":12,"p":"A"},{"t":71.15,"c":14,"p":"P"}
],
"peaks":[
{"t":6.23,"tip":71,"top":151,"l":"d=14,169"},{"t":9.78,"tip":49,"top":120,"l":"d=9,038"},{"t":10.51,"tip":333,"top":405,"l":"d=8,410"},{"t":12.51,"tip":75,"top":146,"l":"d=7,071"},{"t":13.91,"tip":96,"top":171,"l":"d=6,363"},{"t":15.1,"tip":43,"top":120,"l":"d=5,863"},{"t":18.04,"tip":38,"top":106,"l":"d=4,914"},{"t":18.79,"tip":46,"top":114,"l":"d=4,718"},{"t":19.67,"tip":49,"top":120,"l":"d=4,509"},{"t":20.9,"tip":227,"top":301,"l":"d=4,247"},{"t":22.08,"tip":167,"top":242,"l":"d=4,023"},{"t":22.54,"tip":49,"top":106,"l":"d=3,942"},{"t":23.05,"tip":59,"top":133,"l":"d=3,856"},{"t":23.61,"tip":198,"top":270,"l":"d=3,765"},{"t":24.27,"tip":135,"top":196,"l":"d=3,664"},{"t":25.17,"tip":51,"top":135,"l":"d=3,536"},{"t":25.69,"tip":106,"top":177,"l":"d=3,465"},{"t":26.4,"tip":88,"top":159,"l":"d=3,373"},{"t":26.7,"tip":846,"top":917,"l":"d=3,336"},{"t":27.14,"tip":125,"top":199,"l":"d=3,283"},{"t":27.56,"tip":230,"top":304,"l":"d=3,234"},{"t":27.99,"tip":664,"top":738,"l":"d=3,185"},{"t":28.56,"tip":214,"top":288,"l":"d=3,123"},{"t":29.83,"tip":175,"top":246,"l":"d=2,993"},{"t":30.47,"tip":135,"top":206,"l":"d=2,931"},{"t":30.85,"tip":67,"top":140,"l":"d=2,896"},{"t":31.36,"tip":51,"top":125,"l":"d=2,850"},{"t":31.91,"tip":48,"top":122,"l":"d=2,802"},{"t":32.36,"tip":43,"top":114,"l":"d=2,764"},{"t":33.09,"tip":62,"top":135,"l":"d=2,705"},{"t":33.94,"tip":43,"top":106,"l":"d=2,639"},{"t":34.58,"tip":51,"top":122,"l":"d=2,592"},{"t":35.15,"tip":59,"top":130,"l":"d=2,551"},{"t":36.59,"tip":106,"top":177,"l":"d=2,454"},{"t":37.69,"tip":51,"top":122,"l":"d=2,385"},{"t":39.53,"tip":65,"top":135,"l":"d=2,278"},{"t":40.36,"tip":43,"top":116,"l":"d=2,233"},{"t":41.75,"tip":62,"top":134,"l":"d=2,162"},{"t":42.51,"tip":90,"top":162,"l":"d=2,125"},{"t":43.28,"tip":33,"top":105,"l":"d=2,089"},{"t":44.19,"tip":30,"top":93,"l":"d=2,048"},{"t":44.95,"tip":44,"top":116,"l":"d=2,015"},{"t":45.86,"tip":51,"top":117,"l":"d=1,977"},{"t":47.52,"tip":35,"top":105,"l":"d=1,912"},{"t":49.9,"tip":42,"top":110,"l":"d=1,826"},{"t":50.17,"tip":148,"top":217,"l":"d=1,817"},{"t":50.71,"tip":77,"top":147,"l":"d=1,799"},{"t":51.32,"tip":47,"top":116,"l":"d=1,779"},{"t":54.9,"tip":46,"top":120,"l":"d=1,671"},{"t":55.66,"tip":49,"top":116,"l":"d=1,650"},{"t":56.89,"tip":33,"top":105,"l":"d=1,617"},{"t":59.98,"tip":82,"top":155,"l":"d=1,541"},{"t":67.75,"tip":62,"top":133,"l":"d=1,382"},{"t":68.37,"tip":69,"top":142,"l":"d=1,371"},{"t":70.0,"tip":35,"top":101,"l":"d=1,343"}
],
"phases":[
{"n":"Quartzo","p":"Q","t":26.77,"te":30.75,"cu":870.6,"ct":846},
{"n":"K-Feldspato","p":"K","t":27.36,"te":33.29,"cu":823.2,"ct":793},
{"n":"Plagioclasio","p":"P","t":28.03,"te":33.87,"cu":690.6,"ct":664.4},
{"n":"Anfibolio","p":"A","t":10.55,"te":14.77,"cu":445.8,"ct":415.3},
{"n":"Clorita","p":"C","t":6.18,"te":9.28,"cu":193.1,"ct":161.5}
]
},
"resolve":{"axis":{"x":"independent","y":"independent"}},
"layer":[
{"data":{"name":"xrd"},
 "mark":{"type":"line","color":"#000000","strokeWidth":1.4},
 "encoding":{
  "x":{"field":"t","type":"quantitative","scale":{"domain":[2.29,71.44],"nice":false,"zero":false},
   "axis":{"orient":"bottom","values":[3,10,20,30,40,50,60,70],"format":"d","tickSize":8,"tickColor":"#000","domainColor":"#000","labelFontSize":9,"labelColor":"#333","labelPadding":8,"labelFont":"Liberation Sans","labelFlush":false,"labelOverlap":false,"grid":false,"title":"2-Theta - Scale","titleFontSize":14,"titleFontWeight":"normal","titleFont":"Liberation Sans","titleColor":"#000","titleX":545,"titleY":52,"titleAlign":"center","titleBaseline":"alphabetic"}},
  "y":{"field":"c","type":"quantitative","scale":{"domain":[0,927],"nice":false,"zero":true},
   "axis":{"orient":"left","values":[0,100,200,300,400,500,600,700,800,900],"tickSize":10,"tickColor":"#000","domainColor":"#000","labelFontSize":9,"labelColor":"#333","labelPadding":9,"labelFont":"Liberation Sans","grid":false,"title":"Lin (Counts)","titleFontSize":17,"titleFontWeight":"normal","titleFont":"Liberation Sans","titleColor":"#000","titleX":-40,"titleY":292,"titleAngle":270,"titleAlign":"center","titleBaseline":"alphabetic"}}
 }},
{"data":{"name":"sticks"},
 "mark":{"type":"rule","strokeWidth":3},
 "encoding":{
  "x":{"field":"t","type":"quantitative","scale":{"domain":[2.29,71.44],"nice":false,"zero":false},
   "axis":{"orient":"bottom","values":[3,4,5,6,7,8,9,10,11,12,13,14,15,16,17,18,19,20,21,22,23,24,25,26,27,28,29,30,31,32,33,34,35,36,37,38,39,40,41,42,43,44,45,46,47,48,49,50,51,52,53,54,55,56,57,58,59,60,61,62,63,64,65,66,67,68,69,70,71],"tickSize":4,"tickColor":"#000","labels":false,"domain":false,"grid":false,"title":null}},
  "y":{"field":"c","type":"quantitative","scale":{"domain":[0,927],"nice":false,"zero":true},
   "axis":{"orient":"left","values":[0,10,20,30,40,50,60,70,80,90,100,110,120,130,140,150,160,170,180,190,200,210,220,230,240,250,260,270,280,290,300,310,320,330,340,350,360,370,380,390,400,410,420,430,440,450,460,470,480,490,500,510,520,530,540,550,560,570,580,590,600,610,620,630,640,650,660,670,680,690,700,710,720,730,740,750,760,770,780,790,800,810,820,830,840,850,860,870,880,890,900,910,920],"tickSize":5,"tickColor":"#000","labels":false,"domain":false,"grid":false,"title":null}},
  "y2":{"datum":0},
  "color":{"field":"p","type":"nominal","scale":{"domain":["Q","C","K","P","A"],"range":["#FF0000","#C81414","#0000FF","#FF00FF","#00FF00"]},"legend":null}
 }},
{"data":{"name":"peaks"},
 "mark":{"type":"rule","color":"#000000","strokeWidth":1},
 "encoding":{
  "x":{"field":"t","type":"quantitative","scale":{"domain":[2.29,71.44],"nice":false,"zero":false},
   "axis":{"orient":"bottom","values":[5,15,25,35,45,55,65],"tickSize":8,"tickColor":"#000","labels":false,"domain":false,"grid":false,"title":null}},
  "y":{"field":"tip","type":"quantitative","scale":{"domain":[0,927],"nice":false,"zero":true},
   "axis":{"orient":"left","values":[50,150,250,350,450,550,650,750,850],"tickSize":7,"tickColor":"#000","labels":false,"domain":false,"grid":false,"title":null}},
  "y2":{"field":"top"}
 }},
{"data":{"name":"peaks"},
 "mark":{"type":"text","angle":270,"align":"right","baseline":"alphabetic","dx":-2,"dy":-3,"fontSize":10,"font":"Liberation Sans","color":"#222222"},
 "encoding":{
  "x":{"field":"t","type":"quantitative","scale":{"domain":[2.29,71.44],"nice":false,"zero":false},"axis":null},
  "y":{"field":"top","type":"quantitative","scale":{"domain":[0,927],"nice":false,"zero":true},"axis":null},
  "text":{"field":"l"}
 }},
{"data":{"name":"peaks"},
 "mark":{"type":"point","shape":"M-1,-1.8L0,0L1,-1.8","size":25,"filled":false,"color":"#000000","strokeWidth":1,"opacity":1},
 "encoding":{
  "x":{"field":"t","type":"quantitative","scale":{"domain":[2.29,71.44],"nice":false,"zero":false},"axis":null},
  "y":{"field":"tip","type":"quantitative","scale":{"domain":[0,927],"nice":false,"zero":true},"axis":null}
 }},
{"data":{"name":"phases"},
 "mark":{"type":"rule","strokeWidth":1},
 "encoding":{
  "x":{"field":"t","type":"quantitative","scale":{"domain":[2.29,71.44],"nice":false,"zero":false},"axis":null},
  "x2":{"field":"te"},
  "y":{"field":"cu","type":"quantitative","scale":{"domain":[0,927],"nice":false,"zero":true},"axis":null},
  "color":{"field":"p","type":"nominal","legend":null}
 }},
{"data":{"name":"phases"},
 "mark":{"type":"rule","strokeWidth":1},
 "encoding":{
  "x":{"field":"t","type":"quantitative","scale":{"domain":[2.29,71.44],"nice":false,"zero":false},"axis":null},
  "y":{"field":"cu","type":"quantitative","scale":{"domain":[0,927],"nice":false,"zero":true},"axis":null},
  "y2":{"field":"ct"},
  "color":{"field":"p","type":"nominal","legend":null}
 }},
{"data":{"name":"phases"},
 "mark":{"type":"point","shape":"M-1,-1.8L0,0L1,-1.8","size":25,"filled":false,"strokeWidth":1.3,"opacity":1},
 "encoding":{
  "x":{"field":"t","type":"quantitative","scale":{"domain":[2.29,71.44],"nice":false,"zero":false},"axis":null},
  "y":{"field":"ct","type":"quantitative","scale":{"domain":[0,927],"nice":false,"zero":true},"axis":null},
  "color":{"field":"p","type":"nominal","legend":null}
 }},
{"data":{"name":"phases"},
 "mark":{"type":"text","align":"left","baseline":"alphabetic","dx":1,"dy":-3,"fontSize":17,"font":"Liberation Sans"},
 "encoding":{
  "x":{"field":"t","type":"quantitative","scale":{"domain":[2.29,71.44],"nice":false,"zero":false},"axis":null},
  "y":{"field":"cu","type":"quantitative","scale":{"domain":[0,927],"nice":false,"zero":true},"axis":null},
  "text":{"field":"n"},
  "color":{"field":"p","type":"nominal","legend":null}
 }},
{"data":{"values":[{"t":2.29,"c":922}]},
 "mark":{"type":"point","shape":"triangle-up","size":22,"filled":true,"color":"#000000","opacity":1},
 "encoding":{
  "x":{"field":"t","type":"quantitative","scale":{"domain":[2.29,71.44],"nice":false,"zero":false},"axis":null},
  "y":{"field":"c","type":"quantitative","scale":{"domain":[0,927],"nice":false,"zero":true},"axis":null}
 }}
]
}
